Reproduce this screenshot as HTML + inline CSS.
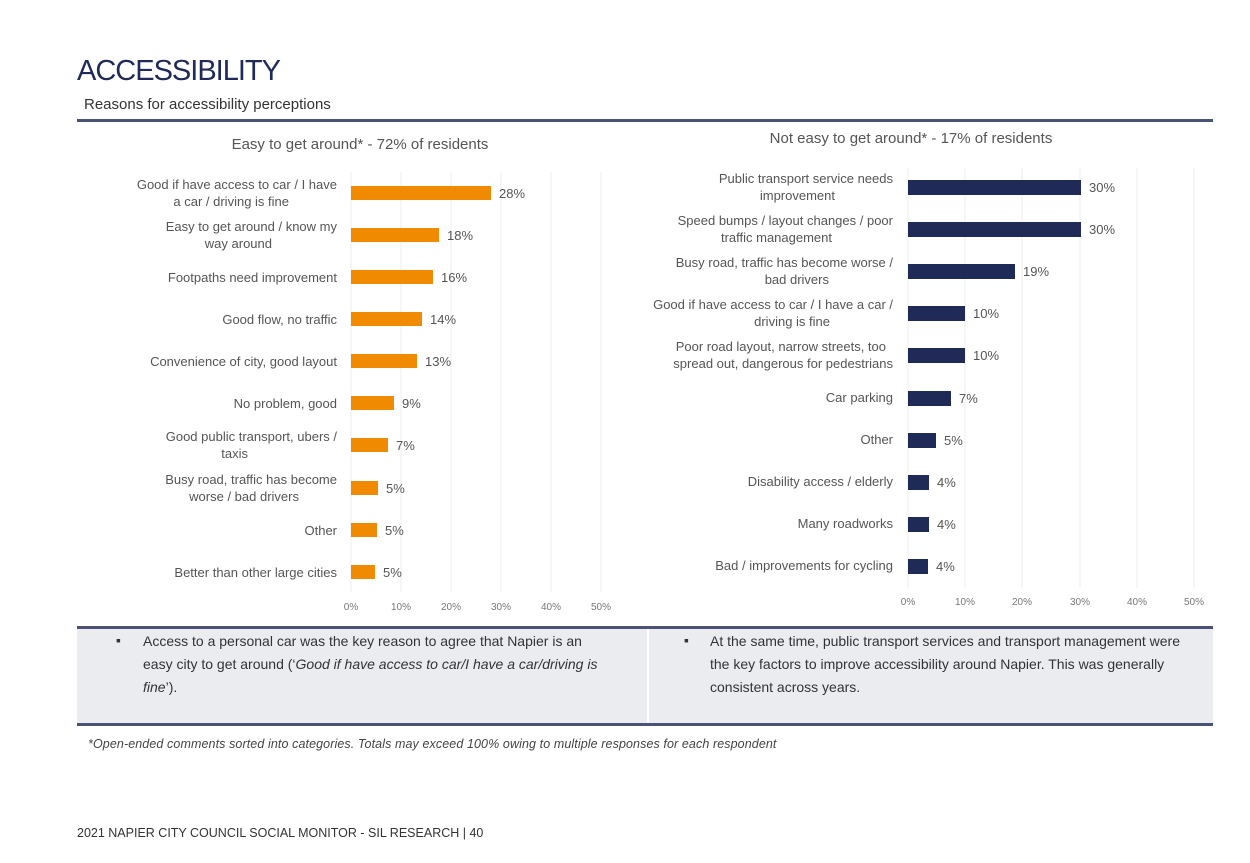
<!DOCTYPE html>
<html><head><meta charset="utf-8"><style>
body{margin:0;width:1250px;height:863px;background:#fff;font-family:"Liberation Sans",sans-serif;position:relative;overflow:hidden}
.a{position:absolute;white-space:nowrap}
</style></head><body>
<div class="a" style="left:77px;top:55px;font-size:29px;color:#1f2a5a;letter-spacing:-1px">ACCESSIBILITY</div>
<div class="a" style="left:84px;top:96px;font-size:15px;color:#333">Reasons for accessibility perceptions</div>
<div class="a" style="left:77px;top:119px;width:1136px;height:3px;background:#4a5277"></div>
<svg class="a" style="left:0;top:0" width="1250" height="620" font-family="Liberation Sans, sans-serif">
<text x="360" y="149" font-size="15" fill="#555" text-anchor="middle">Easy to get around* - 72% of residents</text>
<text x="911" y="143" font-size="15" fill="#555" text-anchor="middle">Not easy to get around* - 17% of residents</text>
<g stroke="#ececec" stroke-width="1">
<line x1="351" y1="172" x2="351" y2="592"/><line x1="401" y1="172" x2="401" y2="592"/><line x1="451" y1="172" x2="451" y2="592"/><line x1="501" y1="172" x2="501" y2="592"/><line x1="551" y1="172" x2="551" y2="592"/><line x1="601" y1="172" x2="601" y2="592"/>
<line x1="908" y1="168" x2="908" y2="588"/><line x1="965" y1="168" x2="965" y2="588"/><line x1="1022" y1="168" x2="1022" y2="588"/><line x1="1080" y1="168" x2="1080" y2="588"/><line x1="1137" y1="168" x2="1137" y2="588"/><line x1="1194" y1="168" x2="1194" y2="588"/>
</g>
<g font-size="10" fill="#777" text-anchor="middle">
<text x="351" y="610">0%</text><text x="401" y="610">10%</text><text x="451" y="610">20%</text><text x="501" y="610">30%</text><text x="551" y="610">40%</text><text x="601" y="610">50%</text>
<text x="908" y="605">0%</text><text x="965" y="605">10%</text><text x="1022" y="605">20%</text><text x="1080" y="605">30%</text><text x="1137" y="605">40%</text><text x="1194" y="605">50%</text>
</g>
<g fill="#f08a00">
<rect x="351" y="186" width="140" height="14"/><rect x="351" y="228" width="88" height="14"/><rect x="351" y="270" width="82" height="14"/><rect x="351" y="312" width="71" height="14"/><rect x="351" y="354" width="66" height="14"/><rect x="351" y="396" width="43" height="14"/><rect x="351" y="438" width="37" height="14"/><rect x="351" y="481" width="27" height="14"/><rect x="351" y="523" width="26" height="14"/><rect x="351" y="565" width="24" height="14"/>
</g>
<g font-size="13" fill="#555">
<text x="499" y="198">28%</text><text x="447" y="240">18%</text><text x="441" y="282">16%</text><text x="430" y="324">14%</text><text x="425" y="366">13%</text><text x="402" y="408">9%</text><text x="396" y="450">7%</text><text x="386" y="493">5%</text><text x="385" y="535">5%</text><text x="383" y="577">5%</text>
</g>
<g font-size="13" fill="#555" text-anchor="end">
<text x="337" y="189">Good if have access to car / I have</text><text x="289" y="206">a car / driving is fine</text>
<text x="337" y="231">Easy to get around / know my</text><text x="272" y="248">way around</text>
<text x="337" y="282">Footpaths need improvement</text>
<text x="337" y="324">Good flow, no traffic</text>
<text x="337" y="366">Convenience of city, good layout</text>
<text x="337" y="408">No problem, good</text>
<text x="337" y="441">Good public transport, ubers /</text><text x="248" y="458">taxis</text>
<text x="337" y="484">Busy road, traffic has become</text><text x="299" y="501">worse / bad drivers</text>
<text x="337" y="535">Other</text>
<text x="337" y="577">Better than other large cities</text>
</g>
<g fill="#1f2a56">
<rect x="908" y="180" width="173" height="15"/><rect x="908" y="222" width="173" height="15"/><rect x="908" y="264" width="107" height="15"/><rect x="908" y="306" width="57" height="15"/><rect x="908" y="348" width="57" height="15"/><rect x="908" y="391" width="43" height="15"/><rect x="908" y="433" width="28" height="15"/><rect x="908" y="475" width="21" height="15"/><rect x="908" y="517" width="21" height="15"/><rect x="908" y="559" width="20" height="15"/>
</g>
<g font-size="13" fill="#555">
<text x="1089" y="192">30%</text><text x="1089" y="234">30%</text><text x="1023" y="276">19%</text><text x="973" y="318">10%</text><text x="973" y="360">10%</text><text x="959" y="403">7%</text><text x="944" y="445">5%</text><text x="937" y="487">4%</text><text x="937" y="529">4%</text><text x="936" y="571">4%</text>
</g>
<g font-size="13" fill="#555" text-anchor="end">
<text x="893" y="183">Public transport service needs</text><text x="835" y="200">improvement</text>
<text x="893" y="225">Speed bumps / layout changes / poor</text><text x="832" y="242">traffic management</text>
<text x="893" y="267">Busy road, traffic has become worse /</text><text x="829" y="284">bad drivers</text>
<text x="893" y="309">Good if have access to car / I have a car /</text><text x="830" y="326">driving is fine</text>
<text x="886" y="351">Poor road layout, narrow streets, too</text><text x="893" y="368">spread out, dangerous for pedestrians</text>
<text x="893" y="402">Car parking</text>
<text x="893" y="444">Other</text>
<text x="893" y="486">Disability access / elderly</text>
<text x="893" y="528">Many roadworks</text>
<text x="893" y="570">Bad / improvements for cycling</text>
</g>
</svg>
<div class="a" style="left:77px;top:626px;width:1136px;height:94px;background:#ebecf0;border-top:3px solid #4a5277;border-bottom:3px solid #4a5277"></div>
<div class="a" style="left:647px;top:629px;width:2px;height:94px;background:#fff"></div>
<div class="a" style="left:116px;top:632px;font-size:14px;color:#333">▪</div>
<div class="a" style="left:143px;top:630px;font-size:14px;color:#333;line-height:23px;white-space:normal;width:468px">Access to a personal car was the key reason to agree that Napier is an easy city to get around (‘<i>Good if have access to car/I have a car/driving is fine</i>’).</div>
<div class="a" style="left:684px;top:632px;font-size:14px;color:#333">▪</div>
<div class="a" style="left:710px;top:630px;font-size:14px;color:#333;line-height:23px;white-space:normal;width:472px">At the same time, public transport services and transport management were the key factors to improve accessibility around Napier. This was generally consistent across years.</div>
<div class="a" style="left:88px;top:737px;font-size:12.5px;color:#444;font-style:italic;letter-spacing:0.1px">*Open-ended comments sorted into categories. Totals may exceed 100% owing to multiple responses for each respondent</div>
<div class="a" style="left:77px;top:826px;font-size:12.5px;color:#333">2021 NAPIER CITY COUNCIL SOCIAL MONITOR - SIL RESEARCH | 40</div>
</body></html>
